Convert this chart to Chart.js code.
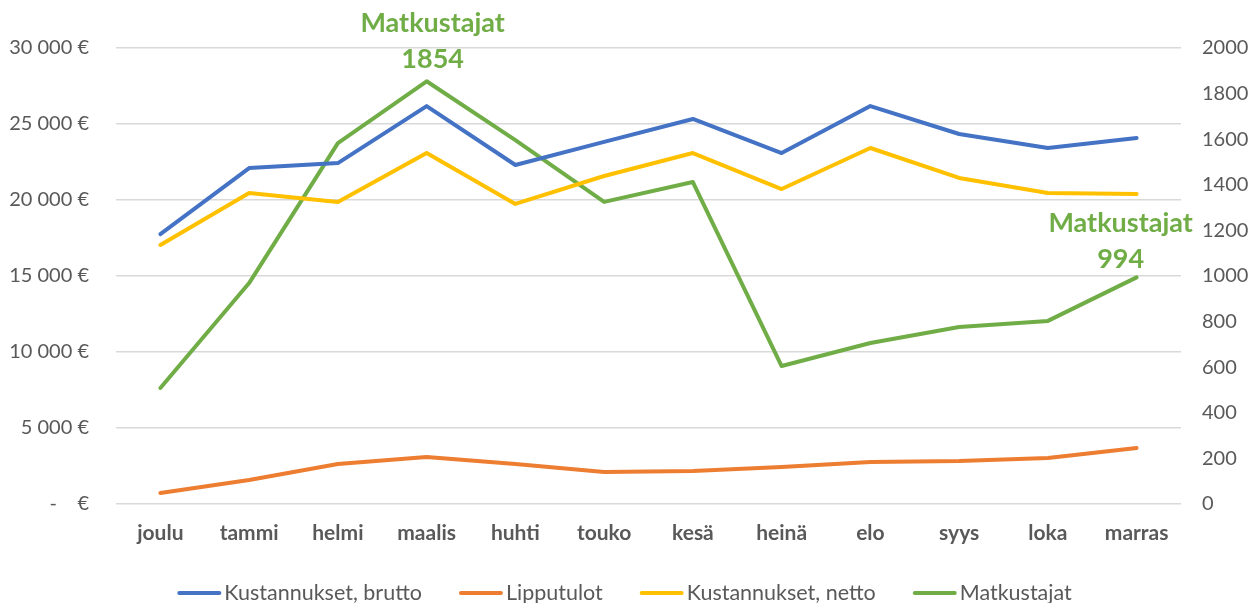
<!DOCTYPE html>
<html>
<head>
<meta charset="utf-8">
<script src="https://cdn.jsdelivr.net/npm/chart.js@4"></script>
<style>
  html, body { margin: 0; padding: 0; background: #fff; }
  #wrap { width: 1249px; height: 603px; }
</style>
</head>
<body>
<div id="wrap"><canvas id="chart" width="1249" height="603"></canvas></div>
<script>
// Data
const months = ['joulu', 'tammi', 'helmi', 'maalis', 'huhti', 'touko', 'kesä', 'heinä', 'elo', 'syys', 'loka', 'marras'];
const brutto = [17760, 22100, 22430, 26180, 22300, 23820, 25330, 23090, 26180, 24340, 23420, 24080];
const lipputulot = [720, 1580, 2630, 3090, 2630, 2100, 2170, 2430, 2760, 2830, 3030, 3680];
const netto = [17040, 20460, 19870, 23090, 19740, 21580, 23090, 20720, 23420, 21450, 20460, 20400];
const matkustajat = [509, 969, 1583, 1854, 1596, 1325, 1412, 605, 706, 776, 803, 994];
const leftTicks = [0, 5000, 10000, 15000, 20000, 25000, 30000];
const rightTicks = [0, 200, 400, 600, 800, 1000, 1200, 1400, 1600, 1800, 2000];
const labelledPoints = [3, 11];

const FONT = 'Lato, "Open Sans", sans-serif';
const GREY = '#595959';

function euro(v) {
  if (v === 0) return '-    €';
  return String(v).replace(/\B(?=(\d{3})+(?!\d))/g, ' ') + ' €';
}

// Data labels for Matkustajat
const pointLabels = {
  id: 'pointLabels',
  afterDatasetsDraw(chart) {
    const meta = chart.getDatasetMeta(3);
    const c = chart.ctx;
    c.save();
    c.font = 'bold 27px ' + FONT;
    c.fillStyle = '#70AD47';
    c.textAlign = 'center';
    c.textBaseline = 'middle';
    labelledPoints.forEach(i => {
      const p = meta.data[i];
      let x = p.x + 6;
      let dy = 22;
      if (i === months.length - 1) { x = p.x - 16; dy = 18; }
      c.fillText('Matkustajat', x, p.y - dy - 36);
      c.fillText(String(matkustajat[i]), x, p.y - dy);
    });
    c.restore();
  }
};

// Legend drawn under the axis
const bottomLegend = {
  id: 'bottomLegend',
  afterDraw(chart) {
    const c = chart.ctx;
    c.save();
    c.font = '21.5px ' + FONT;
    c.textBaseline = 'middle';
    const y = 593;
    const lineW = 44, gap = 3, itemGap = 37;
    const items = chart.data.datasets;
    let total = 0;
    items.forEach(ds => { total += lineW + gap + c.measureText(ds.label).width; });
    total += itemGap * (items.length - 1);
    let x = (chart.width - total) / 2;
    items.forEach(ds => {
      c.strokeStyle = ds.borderColor;
      c.lineWidth = 4;
      c.lineCap = 'round';
      c.beginPath();
      c.moveTo(x + 2, y);
      c.lineTo(x + lineW - 2, y);
      c.stroke();
      x += lineW + gap;
      c.fillStyle = GREY;
      c.fillText(ds.label, x, y);
      x += c.measureText(ds.label).width + itemGap;
    });
    c.restore();
  }
};

const ds = (label, data, color, axis) => ({
  label: label,
  data: data,
  borderColor: color,
  backgroundColor: color,
  borderWidth: 4,
  pointRadius: 0,
  tension: 0,
  yAxisID: axis,
  borderCapStyle: 'round',
  borderJoinStyle: 'round'
});

new Chart(document.getElementById('chart'), {
  type: 'line',
  data: {
    labels: months,
    datasets: [
      ds('Kustannukset, brutto', brutto, '#4472C4', 'y'),
      ds('Lipputulot', lipputulot, '#ED7D31', 'y'),
      ds('Kustannukset, netto', netto, '#FFC000', 'y'),
      ds('Matkustajat', matkustajat, '#70AD47', 'y1')
    ]
  },
  options: {
    responsive: false,
    animation: false,
    layout: { padding: { top: 48, bottom: 49, left: 0, right: 0 } },
    plugins: {
      legend: { display: false },
      tooltip: { enabled: false }
    },
    scales: {
      x: {
        offset: true,
        grid: { display: false, drawTicks: false },
        border: { display: false },
        ticks: { color: GREY, font: { family: FONT, size: 21, weight: 'bold' }, padding: 17, maxRotation: 0 },
        afterFit: s => { s.height = 50; }
      },
      y: {
        position: 'left',
        min: 0,
        max: 30000,
        afterBuildTicks: s => { s.ticks = leftTicks.map(v => ({ value: v })); },
        grid: { color: '#D9D9D9', lineWidth: 1.5, drawTicks: false },
        border: { display: false },
        ticks: { color: GREY, font: { family: FONT, size: 20 }, padding: 27, callback: v => euro(v) },
        afterFit: s => { s.width = 116; }
      },
      y1: {
        position: 'right',
        min: 0,
        max: 2000,
        afterBuildTicks: s => { s.ticks = rightTicks.map(v => ({ value: v })); },
        grid: { display: false, drawTicks: false },
        border: { display: false },
        ticks: { color: GREY, font: { family: FONT, size: 20 }, padding: 21, callback: v => String(v) },
        afterFit: s => { s.width = 68; }
      }
    }
  },
  plugins: [pointLabels, bottomLegend]
});
</script>
</body>
</html>
